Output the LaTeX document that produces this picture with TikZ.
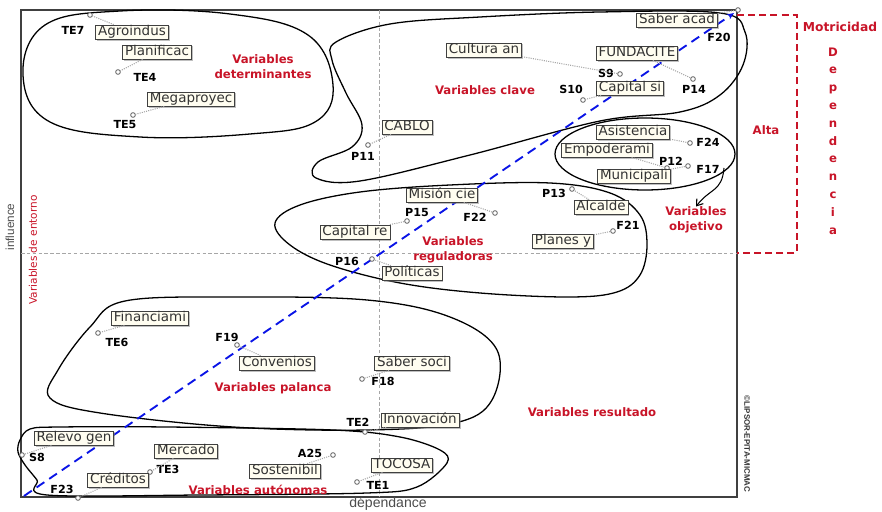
\documentclass[tikz,border=0pt]{standalone}
\usepackage{fontspec}
\setmainfont{DejaVu Sans}
\newfontfamily\arialfont{Liberation Sans}
\usetikzlibrary{arrows.meta, shadows, positioning}

\definecolor{zonered}{RGB}{200,20,40}
\definecolor{diagblue}{RGB}{10,20,230}
\definecolor{boxfill}{RGB}{255,253,240}

\tikzset{
  varbox/.style={draw=black!75, fill=boxfill, line width=0.6pt, text=black!80,
    font=\fontsize{11.5}{12}\selectfont, inner xsep=2pt, inner ysep=0.6pt,
    text height=8.6pt, text depth=2.2pt,
    drop shadow={shadow xshift=1.3pt, shadow yshift=-1.3pt, fill=black!50}},
  codetxt/.style={font=\fontsize{9.5}{10}\selectfont\bfseries, inner sep=0pt},
  dotpt/.style={circle, draw=black!60, line width=0.7pt, fill=white, inner sep=0pt,
    minimum size=4pt},
  leader/.style={gray!70, densely dotted, line width=0.9pt},
  zonetxt/.style={font=\fontsize{10}{12.8}\selectfont\bfseries, text=zonered,
    align=center, inner sep=0pt},
  cluster/.style={black, line width=1.1pt},
}

\begin{document}
\begin{tikzpicture}[x=0.03cm, y=-0.03cm]
  \useasboundingbox (0,0) rectangle (882,512);

  %% plane and axes
  \draw[gray!50!black, line width=1pt] (21,10) rectangle (737,497);
  \draw[gray!70, densely dashed, line width=0.6pt] (379,10) -- (379,497);
  \draw[gray!70, densely dashed, line width=0.6pt] (21,253) -- (737,253);
  \node[rotate=90, font=\arialfont\fontsize{10}{11}\selectfont, text=black!70] (infl) at (10,227) {influence};
  \node[font=\arialfont\fontsize{12}{13}\selectfont, text=black!70] (dep) at (388,504) {dépendance};
  \node[rotate=90, font=\fontsize{9}{10}\selectfont, text=zonered] (entorno) at (33,250) {Variables de entorno};
  \node[rotate=-90, font=\arialfont\fontsize{6.8}{7}\selectfont\bfseries, text=black!80] (lipsor) at (747,444) {©LIPSOR-EPITA-MICMAC};

  % high zone on the right
  \draw[zonered, line width=1.6pt, dash pattern=on 6pt off 3.5pt] (737,15) -| (797,253) -- (737,253);
  \node[font=\fontsize{10.5}{11}\selectfont\bfseries, text=zonered] (motri) at (840,27) {Motricidad};
  \node[font=\fontsize{10}{15.2}\selectfont\bfseries, text=zonered, align=center] (depvert) at (833,141)
    {D\\e\\p\\e\\n\\d\\e\\n\\c\\i\\a};
  \node[zonetxt] (alta) at (766,130) {Alta};

  %% clusters
  \draw[cluster] plot[smooth cycle, tension=0.65] coordinates {(23,75) (45,25) (120,11) (230,14)
    (308,35) (333,85) (315,122) (250,134) (140,137) (50,122)};
  \draw[cluster] plot[smooth cycle, tension=0.6] coordinates {(336,42) (390,24) (480,17) (600,12)
    (720,13) (745,32) (743,65) (720,95) (680,112) (600,121) (470,155) (360,181)
    (316,178) (318,162) (352,147) (362,125) (346,93) (332,60)};
  \draw[cluster] (645,154) ellipse [x radius=2.7cm, y radius=1.08cm];
  \draw[cluster] plot[smooth cycle, tension=0.6] coordinates {(275,223) (300,205) (360,192)
    (450,185) (550,183) (610,193) (640,215) (647,245) (640,275) (617,292) (570,297) (480,293)
    (400,283) (330,265) (290,245)};
  \draw[cluster] plot[smooth cycle, tension=0.6] coordinates {(90,327) (125,301) (233,297)
    (367,300) (450,317) (497,350) (492,400) (455,423) (367,430) (233,427) (100,413)
    (50,398) (58,370)};
  \draw[cluster] plot[smooth cycle, tension=0.55] coordinates {(20,440) (30,429) (60,427)
    (167,427) (333,430) (400,437) (440,450) (447,463) (417,487) (367,493) (200,495) (47,495)
    (37,480) (25,465) (18,452)};

  %% diagonal
  \coordinate (orig) at (24,496);
  \coordinate (peak) at (734,13);
  \draw[diagblue, line width=1.6pt, dash pattern=on 8pt off 5pt, -{Stealth[length=6pt, width=5pt]}] (orig) -- (peak);

  %% Variables determinantes
  \node[varbox] (agro) at (132,32) {Agroindus};
  \node[dotpt] (te7) at (90,15) {};
  \node[codetxt] (te7l) at (73,30) {TE7};
  \node[varbox] (plani) at (157,52) {Planificac};
  \node[dotpt] (te4) at (118,72) {};
  \node[codetxt] (te4l) at (145,77) {TE4};
  \node[varbox] (mega) at (191,99) {Megaproyec};
  \node[dotpt] (te5) at (133,115) {};
  \node[codetxt] (te5l) at (125,125) {TE5};
  \draw[leader] (agro) -- (te7);
  \draw[leader] (plani) -- (te4);
  \draw[leader] (mega) -- (te5);
  \node[zonetxt] (determ) at (263,67) {Variables\\determinantes};

  %% Variables clave
  \node[varbox] (cult) at (484,50) {Cultura an};
  \node[dotpt] (s9) at (620,74) {};
  \node[codetxt] (s9l) at (606,73) {S9};
  \node[varbox] (funda) at (637,53) {FUNDACITE};
  \node[dotpt] (p14) at (693,79) {};
  \node[codetxt] (p14l) at (694,89) {P14};
  \node[varbox] (sabac) at (677,20) {Saber acad};
  \node[dotpt] (f20) at (738,10) {};
  \node[codetxt] (f20l) at (719,37) {F20};
  \node[varbox] (capsi) at (630,88) {Capital si};
  \node[dotpt] (s10) at (583,100) {};
  \node[codetxt] (s10l) at (571,89) {S10};
  \node[varbox] (cablo) at (407,127) {CABLO};
  \node[dotpt] (p11) at (368,145) {};
  \node[codetxt] (p11l) at (363,156) {P11};
  \draw[leader] (cult) -- (s9);
  \draw[leader] (funda) -- (p14);
  \draw[leader] (sabac) -- (f20);
  \draw[leader] (capsi) -- (s10);
  \draw[leader] (cablo) -- (p11);
  \node[zonetxt] (clave) at (485,90) {Variables clave};

  %% Variables objetivo
  \node[varbox] (asis) at (633,132) {Asistencia};
  \node[dotpt] (f24) at (690,143) {};
  \node[codetxt] (f24l) at (708,142) {F24};
  \node[varbox] (empo) at (607,150) {Empoderami};
  \node[dotpt] (p12) at (667,168) {};
  \node[codetxt] (p12l) at (671,161) {P12};
  \node[varbox] (muni) at (634,176) {Municipali};
  \node[dotpt] (f17) at (688,166) {};
  \node[codetxt] (f17l) at (708,169) {F17};
  \draw[leader] (asis) -- (f24);
  \draw[leader] (empo) -- (p12);
  \draw[leader] (muni) -- (f17);
  \node[zonetxt] (objet) at (696,220) {Variables\\objetivo};
  \coordinate (objtail) at (724,168);
  \draw[black, line width=0.9pt, -{Straight Barb[length=5pt, width=7pt]}] (objtail) .. controls (722,192) and (710,188) .. (objet.north);

  %% Variables reguladoras
  \node[varbox] (mision) at (442,195) {Misión cie};
  \node[dotpt] (f22) at (495,213) {};
  \node[codetxt] (f22l) at (475,217) {F22};
  \node[varbox] (capre) at (355,232) {Capital re};
  \node[dotpt] (p15) at (407,221) {};
  \node[codetxt] (p15l) at (417,213) {P15};
  \node[varbox] (polit) at (412,273) {Políticas};
  \node[dotpt] (p16) at (372,259) {};
  \node[codetxt] (p16l) at (347,261) {P16};
  \node[varbox] (alca) at (601,207) {Alcalde};
  \node[dotpt] (p13) at (572,189) {};
  \node[codetxt] (p13l) at (554,193) {P13};
  \node[varbox] (planes) at (563,241) {Planes y};
  \node[dotpt] (f21) at (613,231) {};
  \node[codetxt] (f21l) at (628,225) {F21};
  \draw[leader] (mision) -- (f22);
  \draw[leader] (capre) -- (p15);
  \draw[leader] (polit) -- (p16);
  \draw[leader] (alca) -- (p13);
  \draw[leader] (planes) -- (f21);
  \node[zonetxt] (regul) at (453,250) {Variables\\reguladoras};

  %% Variables palanca
  \node[varbox] (finan) at (150,318) {Financiami};
  \node[dotpt] (te6) at (98,333) {};
  \node[codetxt] (te6l) at (117,342) {TE6};
  \node[varbox] (conv) at (277,363) {Convenios};
  \node[dotpt] (f19) at (237,345) {};
  \node[codetxt] (f19l) at (227,337) {F19};
  \node[varbox] (sabso) at (412,363) {Saber soci};
  \node[dotpt] (f18) at (362,379) {};
  \node[codetxt] (f18l) at (383,381) {F18};
  \node[varbox] (innov) at (420,420) {Innovación};
  \node[dotpt] (te2) at (365,432) {};
  \node[codetxt] (te2l) at (358,422) {TE2};
  \draw[leader] (finan) -- (te6);
  \draw[leader] (conv) -- (f19);
  \draw[leader] (sabso) -- (f18);
  \draw[leader] (innov) -- (te2);
  \node[zonetxt] (palanca) at (273,388) {Variables palanca};
  \node[zonetxt] (result) at (592,412) {Variables resultado};

  %% Variables autonomas
  \node[varbox] (relev) at (74,438) {Relevo gen};
  \node[dotpt] (s8) at (22,455) {};
  \node[codetxt] (s8l) at (37,457) {S8};
  \node[varbox] (merc) at (186,451) {Mercado};
  \node[dotpt] (te3) at (150,472) {};
  \node[codetxt] (te3l) at (168,469) {TE3};
  \node[varbox] (cred) at (118,480) {Créditos};
  \node[dotpt] (f23) at (78,498) {};
  \node[codetxt] (f23l) at (62,489) {F23};
  \node[varbox] (soste) at (285,471) {Sostenibil};
  \node[dotpt] (a25) at (333,455) {};
  \node[codetxt] (a25l) at (310,453) {A25};
  \node[varbox] (tocosa) at (402,465) {TOCOSA};
  \node[dotpt] (te1) at (357,482) {};
  \node[codetxt] (te1l) at (378,485) {TE1};
  \draw[leader] (relev) -- (s8);
  \draw[leader] (merc) -- (te3);
  \draw[leader] (cred) -- (f23);
  \draw[leader] (soste) -- (a25);
  \draw[leader] (tocosa) -- (te1);
  \node[zonetxt] (auton) at (258,490) {Variables autónomas};

\end{tikzpicture}
\end{document}
